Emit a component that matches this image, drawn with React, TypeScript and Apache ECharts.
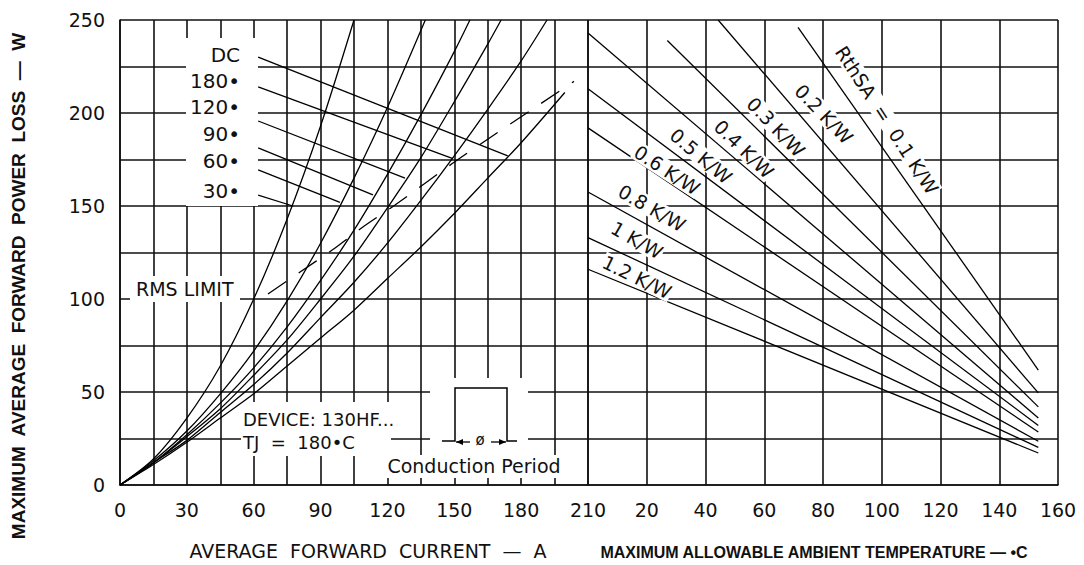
import React, { useEffect, useRef } from "react";
import * as echarts from "echarts";

// ---- Data ----
const currentLabels = [0, 30, 60, 90, 120, 150, 180, 210];
const tempLabels = [20, 40, 60, 80, 100, 120, 140, 160];
const powerLabels = [0, 50, 100, 150, 200, 250];

// conduction-angle curves: [average current A, power loss W]
const curve30 = [[0, 0], [15, 14], [30, 36], [45, 64], [60, 100], [75, 143], [90, 193], [105, 250]];
const curve60 = [[0, 0], [15, 13], [30, 29], [45, 49], [60, 72], [75, 99], [90, 130], [105, 165], [120, 203], [137, 250]];
const curve90 = [[0, 0], [15, 12], [30, 27], [45, 44], [60, 63], [75, 85], [90, 110], [105, 137], [120, 167], [135, 199], [150, 233], [157, 250]];
const curve120 = [[0, 0], [15, 12], [30, 26], [45, 41], [60, 59], [75, 78], [90, 100], [105, 123], [120, 149], [135, 176], [150, 206], [165, 237], [171, 250]];
const curve180 = [[0, 0], [15, 12], [30, 24], [45, 39], [60, 54], [75, 71], [90, 90], [105, 109], [120, 130], [135, 153], [150, 177], [165, 202], [180, 228], [191.6, 250]];
const curveDC = [[0, 0], [15, 11], [30, 23], [45, 36], [60, 49], [75, 64], [90, 79], [105, 94], [120, 111], [135, 128], [150, 146], [165, 165], [180, 184], [199.6, 211]];

// leader lines from labels to curves
const leaderDC = [[62, 230], [174, 177]];
const leader180 = [[62, 214], [149.4, 175.5]];
const leader120 = [[62, 195.7], [127.9, 165]];
const leader90 = [[62, 181.2], [113.5, 156]];
const leader60 = [[62, 169.4], [98.7, 152]];
const leader30 = [[62, 155.9], [77.6, 150]];

// RMS limit (dashed)
const rmsLimit = [[66.4, 102.7], [80.8, 114.5], [95.2, 126.3], [109, 138.7], [123.4, 150.5], [152.6, 175.8], [203.7, 217]];

// heatsink thermal resistance lines: [ambient temp °C, power W]
const rth01 = [[71.5, 246], [153.3, 61.8]];
const rth02 = [[44.3, 250], [153.3, 49.5]];
const rth03 = [[27, 239], [153.3, 42]];
const rth04 = [[0, 243], [153.3, 36]];
const rth05 = [[0, 213], [153.3, 32]];
const rth06 = [[0, 192], [153.3, 28.5]];
const rth08 = [[0, 157.5], [153.3, 23.5]];
const rth10 = [[0, 133], [153.3, 20.2]];
const rth12 = [[0, 116], [153.3, 17.2]];

const leftCurves = [curve30, curve60, curve90, curve120, curve180, curveDC];
const leaders = [leaderDC, leader180, leader120, leader90, leader60, leader30];
const rthLines = [rth01, rth02, rth03, rth04, rth05, rth06, rth08, rth10, rth12];

const FONT = '"DejaVu Sans", sans-serif';
const INK = "#111";

function txt(text: string, x: number, y: number, opts: any = {}) {
  const { size = 19, align = "center", rot = 0, weight = "normal", family = FONT, bg, z = 10 } = opts;
  const style: any = {
    text,
    x: 0,
    y: 0,
    fill: INK,
    font: `${weight} ${size}px ${family}`,
    align,
    textAlign: align,
    verticalAlign: "middle",
    textVerticalAlign: "middle",
  };
  if (bg) {
    style.backgroundColor = "#fff";
    style.padding = [0, 1];
  }
  return { type: "text", x, y, rotation: (rot * Math.PI) / 180, z, style };
}

function whiteRect(x: number, y: number, w: number, h: number) {
  return { type: "rect", z: 1, shape: { x, y, width: w, height: h }, style: { fill: "#fff" } };
}

export default function App() {
  const ref = useRef<HTMLDivElement>(null);
  useEffect(() => {
    document.body.style.margin = "0";
    const chart = echarts.init(ref.current!, null, { renderer: "svg" });
    const gridLine = { show: true, lineStyle: { color: INK, width: 1.6 } };
    const curveStyle = { color: "#000", width: 1.3 };
    const series: any[] = [];
    leftCurves.forEach((d) =>
      series.push({ type: "line", xAxisIndex: 0, yAxisIndex: 0, data: d, smooth: 0.3, symbol: "none", lineStyle: curveStyle })
    );
    leaders.forEach((d) =>
      series.push({ type: "line", xAxisIndex: 0, yAxisIndex: 0, data: d, symbol: "none", lineStyle: curveStyle })
    );
    series.push({
      type: "line", xAxisIndex: 0, yAxisIndex: 0, data: rmsLimit, smooth: 0.2, symbol: "none",
      lineStyle: { color: "#000", width: 1.3, type: [22, 15] },
    });
    rthLines.forEach((d) =>
      series.push({ type: "line", xAxisIndex: 1, yAxisIndex: 1, data: d, symbol: "none", lineStyle: curveStyle })
    );

    const axisLabelStyle = { color: INK, fontSize: 19, fontFamily: FONT };

    const graphic: any[] = [
      // white boxes that interrupt the grid behind annotations
      whiteRect(186, 38, 72, 168),
      whiteRect(130, 276, 110, 26),
      whiteRect(241, 402, 150, 54),
      whiteRect(430, 378, 98, 79),
      whiteRect(376, 455, 196, 23),
      // conduction-angle labels
      txt("DC", 240, 55, { align: "right", size: 20 }),
      txt("180•", 240, 81, { align: "right", size: 20 }),
      txt("120•", 240, 107, { align: "right", size: 20 }),
      txt("90•", 240, 134, { align: "right", size: 20 }),
      txt("60•", 240, 161, { align: "right", size: 20 }),
      txt("30•", 240, 191, { align: "right", size: 20 }),
      txt("RMS LIMIT", 136, 289, { align: "left" }),
      txt("DEVICE: 130HF...", 243, 419, { align: "left", size: 18 }),
      txt("TJ  =  180•C", 243, 442, { align: "left", size: 18 }),
      txt("Conduction Period", 474, 466, { size: 19 }),
      // conduction-period pulse
      {
        type: "polyline", z: 5,
        shape: { points: [[442, 441], [455, 441], [455, 388], [507, 388], [507, 441], [517, 441]] },
        style: { stroke: "#000", lineWidth: 1.5, fill: null },
      },
      { type: "line", z: 5, shape: { x1: 456, y1: 442, x2: 470, y2: 442 }, style: { stroke: "#000", lineWidth: 1.3 } },
      { type: "line", z: 5, shape: { x1: 491, y1: 442, x2: 506, y2: 442 }, style: { stroke: "#000", lineWidth: 1.3 } },
      { type: "polygon", z: 5, shape: { points: [[456, 442], [463, 439], [463, 445]] }, style: { fill: "#000" } },
      { type: "polygon", z: 5, shape: { points: [[506, 442], [499, 439], [499, 445]] }, style: { fill: "#000" } },
      { type: "rect", z: 4, shape: { x: 471, y: 434, width: 19, height: 14 }, style: { fill: "#fff" } },
      txt("ø", 480, 440, { size: 15 }),
      // thermal resistance labels
      txt("RthSA  =  0.1 K/W", 887, 120, { rot: -57, size: 19, bg: true }),
      txt("0.2 K/W", 824, 114, { rot: -46, size: 19, bg: true }),
      txt("0.3 K/W", 776, 127, { rot: -46, size: 19, bg: true }),
      txt("0.4 K/W", 744, 149, { rot: -44, size: 19, bg: true }),
      txt("0.5 K/W", 701, 156, { rot: -40, size: 19, bg: true }),
      txt("0.6 K/W", 667, 170, { rot: -33, size: 19, bg: true }),
      txt("0.8 K/W", 652, 208, { rot: -30, size: 19, bg: true }),
      txt("1 K/W", 637, 240, { rot: -30, size: 19, bg: true }),
      txt("1.2 K/W", 637, 277, { rot: -26, size: 19, bg: true }),
      // axis titles
      txt("MAXIMUM  AVERAGE  FORWARD  POWER  LOSS  —  W", 18, 286, {
        rot: 90, size: 19, weight: "bold", family: '"Liberation Sans", Arial, sans-serif',
      }),
      txt("AVERAGE  FORWARD  CURRENT  —  A", 368, 551, { size: 19 }),
      txt("MAXIMUM ALLOWABLE AMBIENT TEMPERATURE — •C", 814, 552, {
        size: 16, weight: "bold", family: '"Liberation Sans", Arial, sans-serif',
      }),
    ];

    chart.setOption({
      animation: false,
      backgroundColor: "#fff",
      grid: [
        { left: 120, top: 20, width: 468, bottom: 80 },
        { left: 588, top: 20, width: 470, bottom: 80 },
      ],
      xAxis: [
        {
          type: "value", gridIndex: 0, min: 0, max: 210, interval: 15,
          axisLine: { show: true, lineStyle: { color: INK, width: 1.6 } },
          axisTick: { show: false },
          splitLine: gridLine,
          axisLabel: {
            ...axisLabelStyle, margin: 15,
            formatter: (v: number) => (currentLabels.includes(v) ? String(v) : ""),
          },
        },
        {
          type: "value", gridIndex: 1, min: 0, max: 160, interval: 20,
          axisLine: { show: true, lineStyle: { color: INK, width: 1.6 } },
          axisTick: { show: false },
          splitLine: gridLine,
          axisLabel: {
            ...axisLabelStyle, margin: 15,
            formatter: (v: number) => (tempLabels.includes(v) ? String(v) : ""),
          },
        },
      ],
      yAxis: [
        {
          type: "value", gridIndex: 0, min: 0, max: 250, interval: 25,
          axisLine: { show: true, lineStyle: { color: INK, width: 1.6 } },
          axisTick: { show: false },
          splitLine: gridLine,
          axisLabel: {
            ...axisLabelStyle, margin: 15,
            formatter: (v: number) => (powerLabels.includes(v) ? String(v) : ""),
          },
        },
        {
          type: "value", gridIndex: 1, min: 0, max: 250, interval: 25,
          axisLine: { show: false },
          axisTick: { show: false },
          splitLine: gridLine,
          axisLabel: { show: false },
        },
      ],
      series,
      graphic,
    });
    return () => chart.dispose();
  }, []);
  return <div ref={ref} style={{ width: 1084, height: 565, background: "#fff" }} />;
}
